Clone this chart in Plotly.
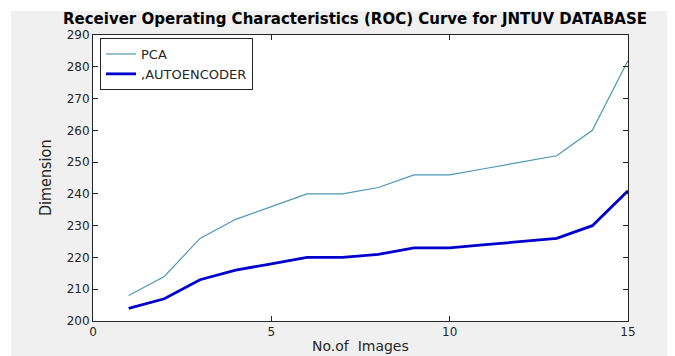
import plotly.graph_objects as go

images = list(range(1, 16))
pca = [208, 214, 226, 232, 236, 240, 240, 242, 246, 246, 248, 250, 252, 260, 282]
autoencoder = [204, 207, 213, 216, 218, 220, 220, 221, 223, 223, 224, 225, 226, 230, 241]
series_names = ["PCA", ",AUTOENCODER"]
x_ticks = [0, 5, 10, 15]
y_ticks = list(range(200, 291, 10))

OFF = 8  # page body margin
W, H = 675 - OFF, 356 - OFF
L, R, T, B = 93 - OFF, 675 - 628, 35 - OFF, 356 - 321
pw, ph = W - L - R, H - T - B

def px_x(p):  # page pixel -> paper x
    return (p - OFF - L) / pw

def px_y(p):  # page pixel -> paper y
    return (H - B - (p - OFF)) / ph

fig = go.Figure()
fig.add_trace(go.Scatter(x=images, y=pca, mode="lines", name=series_names[0],
                         line=dict(color="#4f96b5", width=1.2)))
fig.add_trace(go.Scatter(x=images, y=autoencoder, mode="lines", name=series_names[1],
                         line=dict(color="#0000cc", width=2.8)))

axis_common = dict(showgrid=False, zeroline=False, showline=True, linecolor="#262626",
                   linewidth=1, mirror="ticks", ticks="inside", ticklen=5,
                   tickcolor="#262626",
                   tickfont=dict(family="DejaVu Sans, Liberation Sans", size=12, color="#262626"))

fig.update_xaxes(range=[0, 15], tickvals=x_ticks, **axis_common)
fig.update_yaxes(range=[200, 290], tickvals=y_ticks, **axis_common)

fig.update_layout(
    width=W, height=H,
    margin=dict(l=L, r=R, t=T, b=B, pad=0),
    paper_bgcolor="white",
    plot_bgcolor="white",
    showlegend=True,
    legend=dict(x=px_x(100), y=px_y(38), xanchor="left", yanchor="top",
                bgcolor="white", bordercolor="#262626", borderwidth=1,
                font=dict(family="DejaVu Sans, Liberation Sans", size=13, color="#262626"),
                tracegroupgap=0),
    title=dict(text="<b>Receiver Operating Characteristics (ROC) Curve for JNTUV DATABASE</b>",
               x=px_x(355), xanchor="center", xref="paper",
               y=1 - (18.5 - OFF) / H, yanchor="middle", yref="container",
               font=dict(family="DejaVu Sans, Liberation Sans", size=15, color="black")),
    shapes=[
        dict(type="rect", xref="paper", yref="paper", layer="below",
             x0=px_x(11), x1=px_x(690), y0=px_y(370), y1=px_y(11),
             fillcolor="#f0f0f0", line=dict(width=0)),
        dict(type="rect", xref="paper", yref="paper", layer="below",
             x0=0, x1=1, y0=0, y1=1, fillcolor="white", line=dict(width=0)),
    ],
    annotations=[
        dict(text="Dimension", xref="paper", yref="paper", x=px_x(45), y=0.5,
             xanchor="center", yanchor="middle", textangle=-90, showarrow=False,
             font=dict(family="Liberation Sans Narrow, DejaVu Sans Condensed, Arial Narrow",
                       size=16, color="#262626")),
        dict(text="No.of  Images", xref="paper", yref="paper", x=px_x(360), y=px_y(346),
             xanchor="center", yanchor="middle", showarrow=False,
             font=dict(family="DejaVu Sans, Liberation Sans", size=14, color="#262626")),
    ],
)

fig.write_html("out.html")
